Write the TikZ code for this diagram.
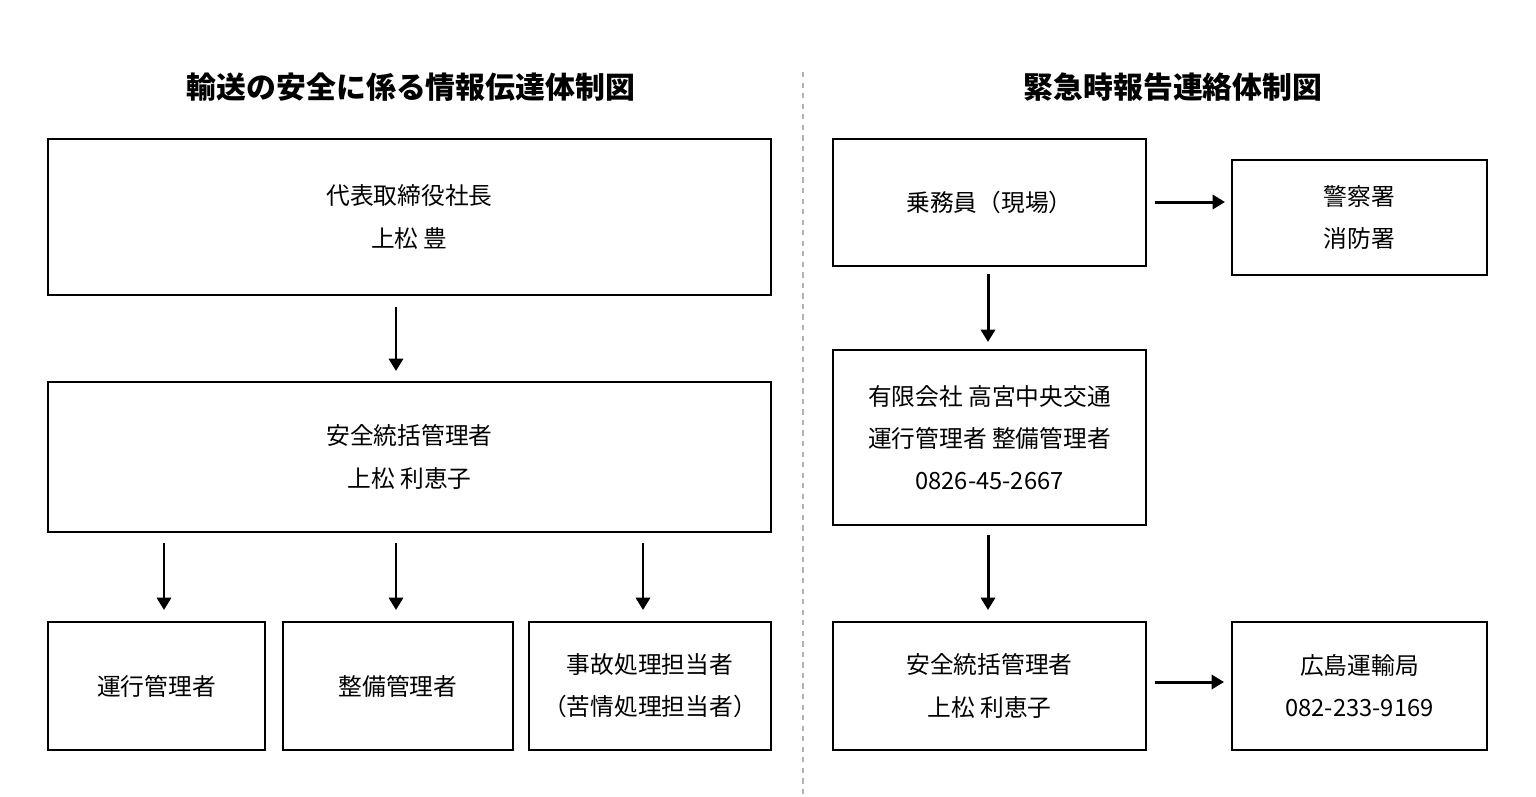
\documentclass[tikz,border=0pt]{standalone}
\usepackage{fontspec}
\setmainfont{Noto Sans CJK JP}
\usetikzlibrary{arrows.meta}
\tikzset{
  box/.style={rectangle, draw=black, line width=0.8pt, align=center, inner sep=0pt,
    font=\fontsize{13.5}{24}\selectfont},
  flow/.style={line width=1.7pt, -{Triangle[length=7pt,width=8pt]}},
  heading/.style={font=\fontsize{17}{20}\selectfont\bfseries}
}
\begin{document}
\begin{tikzpicture}[x=0.02cm, y=-0.02cm]
  \useasboundingbox (0,0) rectangle (1536,796);
  \node[heading] (titleL) at (411,87) {輸送の安全に係る情報伝達体制図};
  \node[heading] (titleR) at (1173,87) {緊急時報告連絡体制図};
  \draw[gray!60, dashed, line width=0.6pt] (803,72) -- (803,796);

  \node[box, minimum width=14.46cm, minimum height=3.12cm] (president) at (409.5,217) {代表取締役社長\\上松 豊};
  \node[box, minimum width=14.46cm, minimum height=3.0cm] (safety) at (409.5,457) {安全統括管理者\\上松 利恵子};
  \node[box, minimum width=4.34cm, minimum height=2.56cm] (operation) at (156.5,686) {運行管理者};
  \node[box, minimum width=4.6cm, minimum height=2.56cm] (maintenance) at (398,686) {整備管理者};
  \node[box, minimum width=4.84cm, minimum height=2.56cm] (accident) at (650,686) {事故処理担当者\\（苦情処理担当者）};
  \coordinate (p1) at (396,307);
  \coordinate (p2) at (396,371);
  \draw[flow] (p1) -- (p2);
  \foreach \x [count=\i] in {164,396,643}{
    \coordinate (s\i) at (\x,543);
    \coordinate (t\i) at (\x,610);
    \draw[flow] (s\i) -- (t\i);
  }

  \node[box, minimum width=6.26cm, minimum height=2.54cm] (crew) at (989.5,202.5) {乗務員（現場）};
  \node[box, minimum width=5.1cm, minimum height=2.3cm] (police) at (1359.5,217.5) {警察署\\消防署};
  \node[box, minimum width=6.26cm, minimum height=3.5cm] (company) at (989.5,437.5) {有限会社 高宮中央交通\\運行管理者 整備管理者\\0826-45-2667};
  \node[box, minimum width=6.26cm, minimum height=2.56cm] (manager) at (989.5,686) {安全統括管理者\\上松 利恵子};
  \node[box, minimum width=5.1cm, minimum height=2.56cm] (bureau) at (1359.5,686) {広島運輸局\\082-233-9169};
  \coordinate (a1) at (1155,202);
  \coordinate (a2) at (1225,202);
  \draw[flow] (a1) -- (a2);
  \coordinate (b1) at (988,274);
  \coordinate (b2) at (988,342);
  \draw[flow] (b1) -- (b2);
  \coordinate (c1) at (988,535);
  \coordinate (c2) at (988,610);
  \draw[flow] (c1) -- (c2);
  \coordinate (d1) at (1155,682);
  \coordinate (d2) at (1224,682);
  \draw[flow] (d1) -- (d2);
\end{tikzpicture}
\end{document}
